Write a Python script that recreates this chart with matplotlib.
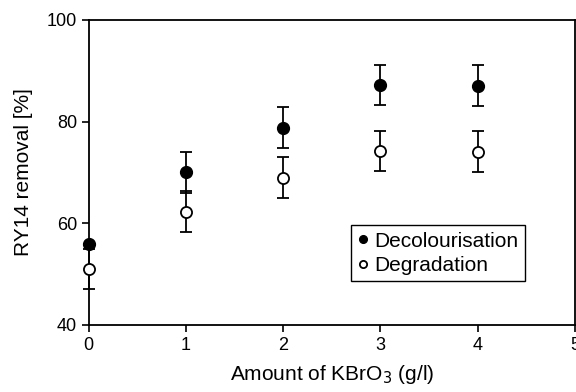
import matplotlib.pyplot as plt

plt.rcParams['font.family'] = ['Liberation Sans', 'DejaVu Sans']

kbro3 = [0, 1, 2, 3, 4]
decol = [55.9, 70.0, 78.8, 87.2, 87.1]
decol_err = [0.0, 4.0, 4.0, 4.0, 4.0]
degrad = [51.0, 62.3, 69.0, 74.2, 74.1]
degrad_err = [4.0, 4.0, 4.0, 4.0, 4.0]

fig = plt.figure(figsize=(5.76, 3.92), dpi=100)
ax = fig.add_axes([0.154, 0.171, 0.844, 0.778])

ax.errorbar(kbro3, decol, yerr=decol_err, fmt='o', color='black', ms=8.5,
            mfc='black', mec='black', capsize=4.5, elinewidth=1.3, capthick=1.3,
            clip_on=False, zorder=3, label='Decolourisation')
ax.errorbar(kbro3, degrad, yerr=degrad_err, fmt='o', color='black', ms=8,
            mfc='white', mec='black', mew=1.3, capsize=4.5, elinewidth=1.3,
            capthick=1.3, clip_on=False, zorder=3, label='Degradation')

ax.set_xlim(0, 5)
ax.set_ylim(40, 100)
ax.set_xticks([0, 1, 2, 3, 4, 5])
ax.set_yticks([40, 60, 80, 100])
ax.tick_params(direction='out', length=5, width=1.2, labelsize=13)
for s in ax.spines.values():
    s.set_linewidth(1.3)

ax.set_xlabel('Amount of KBrO$_3$ (g/l)', fontsize=15, labelpad=7)
ax.set_ylabel('RY14 removal [%]', fontsize=15, labelpad=10)

h, l = ax.get_legend_handles_labels()
h = [x[0] for x in h]
leg = ax.legend(h, l, loc='lower right', bbox_to_anchor=(0.897, 0.144),
                fontsize=15, markerscale=0.65, handlelength=0.5,
                handletextpad=0.3, borderpad=0.3, borderaxespad=0,
                labelspacing=0.25, fancybox=False, edgecolor='black',
                framealpha=1)
leg.get_frame().set_linewidth(1.0)

plt.savefig('out.png', dpi=100)
